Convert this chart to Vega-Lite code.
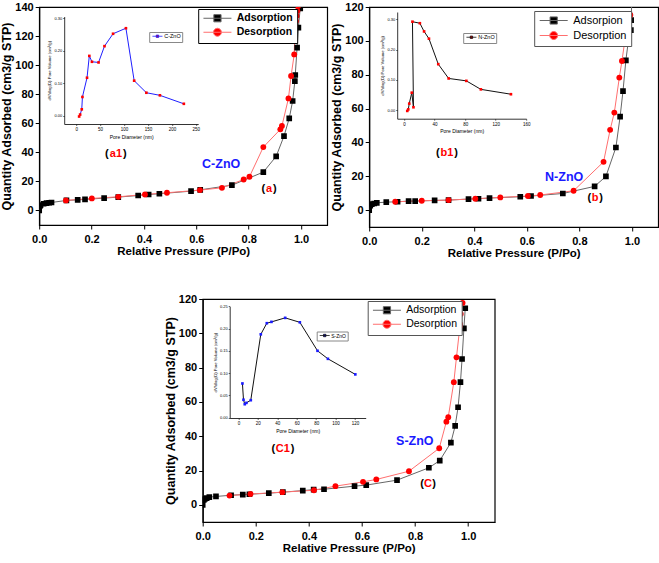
{
"$schema":"https://vega.github.io/schema/vega-lite/v6.json",
"padding":{"left":0,"top":0,"right":0,"bottom":2},
"config":{
 "font":"Liberation Sans",
 "view":{"stroke":"black","strokeWidth":1.2},
 "axis":{"grid":false,"domainColor":"black","domainWidth":1.2,"tickColor":"black","labelColor":"black","titleColor":"black","labelFontWeight":"bold","titleFontWeight":"bold","labelFontSize":11,"tickSize":4},
 "axisX":{"titleFontSize":11.5,"labelPadding":4,"titlePadding":1,"labelFlush":false},
 "axisY":{"titleFontSize":12.5,"titlePadding":1,"labelPadding":2}
},
"datasets":{
 "iso":[
 {"panel":"a","series":"Adsorption","p":0,"q":0},{"panel":"a","series":"Adsorption","p":0.002,"q":3.0},{"panel":"a","series":"Adsorption","p":0.005,"q":3.7},{"panel":"a","series":"Adsorption","p":0.017,"q":4.6},{"panel":"a","series":"Adsorption","p":0.028,"q":5.0},{"panel":"a","series":"Adsorption","p":0.038,"q":5.3},{"panel":"a","series":"Adsorption","p":0.047,"q":5.5},{"panel":"a","series":"Adsorption","p":0.104,"q":6.9},{"panel":"a","series":"Adsorption","p":0.147,"q":7.3},{"panel":"a","series":"Adsorption","p":0.175,"q":7.6},{"panel":"a","series":"Adsorption","p":0.248,"q":8.5},{"panel":"a","series":"Adsorption","p":0.302,"q":9.2},{"panel":"a","series":"Adsorption","p":0.378,"q":10.3},{"panel":"a","series":"Adsorption","p":0.418,"q":11.0},{"panel":"a","series":"Adsorption","p":0.459,"q":11.5},{"panel":"a","series":"Adsorption","p":0.58,"q":13.3},{"panel":"a","series":"Adsorption","p":0.615,"q":14.2},{"panel":"a","series":"Adsorption","p":0.736,"q":17.4},{"panel":"a","series":"Adsorption","p":0.856,"q":26.4},{"panel":"a","series":"Adsorption","p":0.905,"q":37.2},{"panel":"a","series":"Adsorption","p":0.935,"q":51.2},{"panel":"a","series":"Adsorption","p":0.955,"q":63.4},{"panel":"a","series":"Adsorption","p":0.968,"q":75.3},{"panel":"a","series":"Adsorption","p":0.9765,"q":89},{"panel":"a","series":"Adsorption","p":0.978,"q":93.2},{"panel":"a","series":"Adsorption","p":0.985,"q":112},{"panel":"a","series":"Adsorption","p":0.99,"q":125.8},{"panel":"a","series":"Adsorption","p":0.997,"q":139},
 {"panel":"a","series":"Desorption","p":0.102,"q":6.9},{"panel":"a","series":"Desorption","p":0.201,"q":8.3},{"panel":"a","series":"Desorption","p":0.302,"q":9.4},{"panel":"a","series":"Desorption","p":0.404,"q":11.0},{"panel":"a","series":"Desorption","p":0.488,"q":12.2},{"panel":"a","series":"Desorption","p":0.614,"q":14.0},{"panel":"a","series":"Desorption","p":0.698,"q":15.6},{"panel":"a","series":"Desorption","p":0.781,"q":21.3},{"panel":"a","series":"Desorption","p":0.803,"q":23.2},{"panel":"a","series":"Desorption","p":0.856,"q":43.6},{"panel":"a","series":"Desorption","p":0.921,"q":55.8},{"panel":"a","series":"Desorption","p":0.927,"q":58.1},{"panel":"a","series":"Desorption","p":0.952,"q":77.1},{"panel":"a","series":"Desorption","p":0.962,"q":92.5},{"panel":"a","series":"Desorption","p":0.974,"q":107.4},{"panel":"a","series":"Desorption","p":0.977,"q":127},{"panel":"a","series":"Desorption","p":0.981,"q":130.3},{"panel":"a","series":"Desorption","p":0.983,"q":133.8},{"panel":"a","series":"Desorption","p":0.986,"q":137.3},{"panel":"a","series":"Desorption","p":0.989,"q":140.7},
 {"panel":"b","series":"Adsorpion","p":0,"q":0},{"panel":"b","series":"Adsorpion","p":0.004,"q":2.6},{"panel":"b","series":"Adsorpion","p":0.01,"q":3.5},{"panel":"b","series":"Adsorpion","p":0.019,"q":3.9},{"panel":"b","series":"Adsorpion","p":0.029,"q":4.3},{"panel":"b","series":"Adsorpion","p":0.065,"q":4.7},{"panel":"b","series":"Adsorpion","p":0.108,"q":4.9},{"panel":"b","series":"Adsorpion","p":0.15,"q":5.3},{"panel":"b","series":"Adsorpion","p":0.175,"q":5.3},{"panel":"b","series":"Adsorpion","p":0.249,"q":5.7},{"panel":"b","series":"Adsorpion","p":0.302,"q":5.9},{"panel":"b","series":"Adsorpion","p":0.378,"q":6.5},{"panel":"b","series":"Adsorpion","p":0.416,"q":6.7},{"panel":"b","series":"Adsorpion","p":0.458,"q":7.1},{"panel":"b","series":"Adsorpion","p":0.575,"q":7.9},{"panel":"b","series":"Adsorpion","p":0.616,"q":8.3},{"panel":"b","series":"Adsorpion","p":0.737,"q":9.8},{"panel":"b","series":"Adsorpion","p":0.858,"q":14.0},{"panel":"b","series":"Adsorpion","p":0.901,"q":19.9},{"panel":"b","series":"Adsorpion","p":0.939,"q":37.0},{"panel":"b","series":"Adsorpion","p":0.955,"q":55.2},{"panel":"b","series":"Adsorpion","p":0.966,"q":70.3},{"panel":"b","series":"Adsorpion","p":0.977,"q":88.5},{"panel":"b","series":"Adsorpion","p":0.985,"q":98.2},{"panel":"b","series":"Adsorpion","p":0.996,"q":106.3},{"panel":"b","series":"Adsorpion","p":0.997,"q":112.2},{"panel":"b","series":"Adsorpion","p":1.0,"q":126},
 {"panel":"b","series":"Desorption","p":0.099,"q":4.9},{"panel":"b","series":"Desorption","p":0.2,"q":5.5},{"panel":"b","series":"Desorption","p":0.302,"q":5.9},{"panel":"b","series":"Desorption","p":0.404,"q":6.7},{"panel":"b","series":"Desorption","p":0.499,"q":7.5},{"panel":"b","series":"Desorption","p":0.604,"q":8.3},{"panel":"b","series":"Desorption","p":0.651,"q":8.9},{"panel":"b","series":"Desorption","p":0.778,"q":11.4},{"panel":"b","series":"Desorption","p":0.892,"q":28.5},{"panel":"b","series":"Desorption","p":0.917,"q":47.4},{"panel":"b","series":"Desorption","p":0.933,"q":57.6},{"panel":"b","series":"Desorption","p":0.952,"q":78.3},{"panel":"b","series":"Desorption","p":0.962,"q":88.1},{"panel":"b","series":"Desorption","p":0.975,"q":102.3},{"panel":"b","series":"Desorption","p":0.978,"q":105.8},{"panel":"b","series":"Desorption","p":0.985,"q":111.3},{"panel":"b","series":"Desorption","p":0.994,"q":115.3},
 {"panel":"c","series":"Adsorption","p":0,"q":0},{"panel":"c","series":"Adsorption","p":0.004,"q":2.9},{"panel":"c","series":"Adsorption","p":0.008,"q":3.5},{"panel":"c","series":"Adsorption","p":0.015,"q":3.9},{"panel":"c","series":"Adsorption","p":0.025,"q":4.5},{"panel":"c","series":"Adsorption","p":0.05,"q":4.9},{"panel":"c","series":"Adsorption","p":0.107,"q":5.6},{"panel":"c","series":"Adsorption","p":0.151,"q":6.0},{"panel":"c","series":"Adsorption","p":0.176,"q":6.2},{"panel":"c","series":"Adsorption","p":0.249,"q":6.8},{"panel":"c","series":"Adsorption","p":0.302,"q":7.4},{"panel":"c","series":"Adsorption","p":0.377,"q":8.3},{"panel":"c","series":"Adsorption","p":0.418,"q":8.9},{"panel":"c","series":"Adsorption","p":0.457,"q":9.1},{"panel":"c","series":"Adsorption","p":0.572,"q":10.9},{"panel":"c","series":"Adsorption","p":0.616,"q":11.5},{"panel":"c","series":"Adsorption","p":0.732,"q":14.4},{"panel":"c","series":"Adsorption","p":0.852,"q":21.6},{"panel":"c","series":"Adsorption","p":0.893,"q":25.8},{"panel":"c","series":"Adsorption","p":0.935,"q":36.3},{"panel":"c","series":"Adsorption","p":0.951,"q":46},{"panel":"c","series":"Adsorption","p":0.962,"q":56.9},{"panel":"c","series":"Adsorption","p":0.971,"q":71.5},{"panel":"c","series":"Adsorption","p":0.977,"q":85},{"panel":"c","series":"Adsorption","p":0.984,"q":102.9},{"panel":"c","series":"Adsorption","p":0.989,"q":114.6},
 {"panel":"c","series":"Desorption","p":0.101,"q":5.4},{"panel":"c","series":"Desorption","p":0.18,"q":6.3},{"panel":"c","series":"Desorption","p":0.3,"q":7.4},{"panel":"c","series":"Desorption","p":0.419,"q":8.5},{"panel":"c","series":"Desorption","p":0.5,"q":10.9},{"panel":"c","series":"Desorption","p":0.604,"q":13.4},{"panel":"c","series":"Desorption","p":0.654,"q":14.8},{"panel":"c","series":"Desorption","p":0.777,"q":19.6},{"panel":"c","series":"Desorption","p":0.891,"q":33},{"panel":"c","series":"Desorption","p":0.918,"q":48.5},{"panel":"c","series":"Desorption","p":0.925,"q":51.1},{"panel":"c","series":"Desorption","p":0.946,"q":71.5},{"panel":"c","series":"Desorption","p":0.956,"q":86},{"panel":"c","series":"Desorption","p":0.969,"q":104.1},{"panel":"c","series":"Desorption","p":0.9695,"q":105.4},{"panel":"c","series":"Desorption","p":0.972,"q":111.3},{"panel":"c","series":"Desorption","p":0.979,"q":117.7}
 ],
 "psd":[
 {"panel":"a","sample":"C-ZnO","ord":1,"d":6.2,"v":-0.002},{"panel":"a","sample":"C-ZnO","ord":2,"d":8.3,"v":0.004},{"panel":"a","sample":"C-ZnO","ord":3,"d":11.7,"v":0.020},{"panel":"a","sample":"C-ZnO","ord":4,"d":13.1,"v":0.058},{"panel":"a","sample":"C-ZnO","ord":5,"d":22.7,"v":0.117},{"panel":"a","sample":"C-ZnO","ord":6,"d":27.5,"v":0.184},{"panel":"a","sample":"C-ZnO","ord":7,"d":33,"v":0.166},{"panel":"a","sample":"C-ZnO","ord":8,"d":46.8,"v":0.164},{"panel":"a","sample":"C-ZnO","ord":9,"d":59.2,"v":0.214},{"panel":"a","sample":"C-ZnO","ord":10,"d":77.1,"v":0.252},{"panel":"a","sample":"C-ZnO","ord":11,"d":104,"v":0.269},{"panel":"a","sample":"C-ZnO","ord":12,"d":121.2,"v":0.108},{"panel":"a","sample":"C-ZnO","ord":13,"d":146.7,"v":0.071},{"panel":"a","sample":"C-ZnO","ord":14,"d":175,"v":0.063},{"panel":"a","sample":"C-ZnO","ord":15,"d":225,"v":0.037},
 {"panel":"b","sample":"N-ZnO","ord":1,"d":4.2,"v":-0.002},{"panel":"b","sample":"N-ZnO","ord":2,"d":5.5,"v":0.003},{"panel":"b","sample":"N-ZnO","ord":3,"d":6.8,"v":0.022},{"panel":"b","sample":"N-ZnO","ord":4,"d":10.1,"v":0.058},{"panel":"b","sample":"N-ZnO","ord":5,"d":12.3,"v":0.010},{"panel":"b","sample":"N-ZnO","ord":6,"d":11,"v":0.292},{"panel":"b","sample":"N-ZnO","ord":7,"d":20.7,"v":0.287},{"panel":"b","sample":"N-ZnO","ord":8,"d":26.2,"v":0.260},{"panel":"b","sample":"N-ZnO","ord":9,"d":32.6,"v":0.236},{"panel":"b","sample":"N-ZnO","ord":10,"d":44.8,"v":0.152},{"panel":"b","sample":"N-ZnO","ord":11,"d":58.4,"v":0.105},{"panel":"b","sample":"N-ZnO","ord":12,"d":81.6,"v":0.097},{"panel":"b","sample":"N-ZnO","ord":13,"d":100.6,"v":0.069},{"panel":"b","sample":"N-ZnO","ord":14,"d":140,"v":0.053},
 {"panel":"c","sample":"S-ZnO","ord":1,"d":4.1,"v":0.0766},{"panel":"c","sample":"S-ZnO","ord":2,"d":5.2,"v":0.040},{"panel":"c","sample":"S-ZnO","ord":3,"d":6.5,"v":0.030},{"panel":"c","sample":"S-ZnO","ord":4,"d":8.2,"v":0.033},{"panel":"c","sample":"S-ZnO","ord":5,"d":12.7,"v":0.039},{"panel":"c","sample":"S-ZnO","ord":6,"d":23.0,"v":0.187},{"panel":"c","sample":"S-ZnO","ord":7,"d":29.2,"v":0.212},{"panel":"c","sample":"S-ZnO","ord":8,"d":34.0,"v":0.215},{"panel":"c","sample":"S-ZnO","ord":9,"d":48.1,"v":0.224},{"panel":"c","sample":"S-ZnO","ord":10,"d":63.2,"v":0.214},{"panel":"c","sample":"S-ZnO","ord":11,"d":81.4,"v":0.150},{"panel":"c","sample":"S-ZnO","ord":12,"d":92.1,"v":0.132},{"panel":"c","sample":"S-ZnO","ord":13,"d":120.3,"v":0.097}
 ],
 "notes":[
 {"panel":"a","kind":"name","p":0.695,"q":31.9,"tag":"C-ZnO"},
 {"panel":"a","kind":"tag","p":0.293,"q":38.8,"tag":"a1"},
 {"panel":"a","kind":"tag","p":0.878,"q":14.7,"tag":"a"},
 {"panel":"b","kind":"name","p":0.742,"q":19.8,"tag":"N-ZnO"},
 {"panel":"b","kind":"tag","p":0.296,"q":34,"tag":"b1"},
 {"panel":"b","kind":"tag","p":0.86,"q":7.1,"tag":"b"},
 {"panel":"c","kind":"name","p":0.799,"q":37.5,"tag":"S-ZnO"},
 {"panel":"c","kind":"tag","p":0.302,"q":32.6,"tag":"C1"},
 {"panel":"c","kind":"tag","p":0.849,"q":12.2,"tag":"C"}
 ]
},
"vconcat":[
 {"hconcat":[
  {"width":288,"height":218,
   "layer":[
    {"encoding":{
      "x":{"field":"p","type":"quantitative","scale":{"domain":[0,1.1],"nice":false,"zero":false},"axis":{"title":"Relative Pressure (P/Po)","values":[0,0.2,0.4,0.6,0.8,1],"format":".1f"}},
      "y":{"field":"q","type":"quantitative","scale":{"domain":[-10,140],"nice":false,"zero":false},"axis":{"title":"Quantity Adsorbed (cm3/g STP)","values":[0,20,40,60,80,100,120,140]}}},
     "layer":[
      {"data":{"name":"iso"},"transform":[{"filter":"datum.panel=='a' && datum.series!='Desorption'"}],"mark":{"type":"line","color":"#666666","strokeWidth":1,"clip":true}},
      {"data":{"name":"iso"},"transform":[{"filter":"datum.panel=='a' && datum.series=='Desorption'"}],"mark":{"type":"line","color":"#ff6f6f","strokeWidth":1,"clip":true}},
      {"data":{"name":"iso"},"transform":[{"filter":"datum.panel=='a' && datum.series!='Desorption'"}],"mark":{"type":"point","shape":"square","filled":true,"opacity":1,"size":32,"color":"#000000","clip":true}},
      {"data":{"name":"iso"},"transform":[{"filter":"datum.panel=='a' && datum.series=='Desorption'"}],"mark":{"type":"point","shape":"circle","filled":true,"opacity":1,"size":34,"color":"#ff0000","clip":true}},
      {"data":{"name":"iso"},"transform":[{"filter":"datum.panel=='legendonly'"}],"mark":{"type":"point","filled":true,"opacity":1,"size":64,"clip":true},
       "encoding":{
        "fill":{"field":"series","type":"nominal","scale":{"domain":["Adsorption","Desorption"],"range":["#000000","#ff0000"]},
          "legend":{"title":null,"orient":"none","legendX":159,"legendY":2,"strokeColor":"black","fillColor":"white","padding":4,"labelFontSize":10.5,"labelFontWeight":"bold","labelColor":"black","symbolSize":64,"symbolOpacity":1,"symbolStrokeWidth":1,"labelOffset":24,"rowPadding":2}},
        "stroke":{"field":"series","type":"nominal","scale":{"domain":["Adsorption","Desorption"],"range":["#666666","#ff6f6f"]},"legend":{"title":null,"orient":"none"}},
        "shape":{"field":"series","type":"nominal","scale":{"domain":["Adsorption","Desorption"],"range":["M-1,0H6M1.6,-0.9H3.4V0.9H1.6Z","M-1,0H6M1.5,0A1,1 0 1,1 3.5,0A1,1 0 1,1 1.5,0Z"]},"legend":{"title":null,"orient":"none"}}}},
      {"data":{"name":"notes"},"transform":[{"filter":"datum.panel=='a' && datum.kind=='name'"}],"mark":{"type":"text","color":"#1a1aff","fontWeight":"bold","fontSize":12.5,"baseline":"middle"},"encoding":{"text":{"field":"tag"}}},
      {"data":{"name":"notes"},"transform":[{"filter":"datum.panel=='a' && datum.kind=='tag'"}],"mark":{"type":"text","color":"#ff0000","fontWeight":"bold","fontSize":11,"baseline":"middle"},"encoding":{"text":{"field":"tag"}}},
      {"data":{"name":"notes"},"transform":[{"filter":"datum.panel=='a' && datum.kind=='tag'"}],"mark":{"type":"text","color":"black","fontWeight":"bold","fontSize":11,"baseline":"middle","align":"right","dx":{"expr":"-(length(datum.tag)*3.3+0.6)"}},"encoding":{"text":{"value":"("}}},
      {"data":{"name":"notes"},"transform":[{"filter":"datum.panel=='a' && datum.kind=='tag'"}],"mark":{"type":"text","color":"black","fontWeight":"bold","fontSize":11,"baseline":"middle","align":"left","dx":{"expr":"length(datum.tag)*3.3+0.6"}},"encoding":{"text":{"value":")"}}}
     ]},
    {"encoding":{
      "x":{"field":"d","type":"quantitative","scale":{"domain":[-25,255],"range":[25,159],"nice":false,"zero":false},"axis":{"orient":"bottom","offset":-101,"values":[0,50,100,150,200,250],"title":"Pore Diameter (nm)","labelFontSize":4.5,"labelFontWeight":"normal","titleFontSize":5,"titleFontWeight":"normal","tickSize":1.5,"labelPadding":1,"titlePadding":3,"domainWidth":0.8,"tickWidth":0.6}},
      "y":{"field":"v","type":"quantitative","scale":{"domain":[-0.025,0.305],"range":[117,9.5],"nice":false,"zero":false},"axis":{"orient":"left","offset":-25,"values":[0,0.05,0.1,0.15,0.2,0.25,0.3],"format":".2f","title":"dV/dlog(D) Pore Volume (cm³/g)","labelFontSize":4,"labelFontWeight":"normal","titleFontSize":4.2,"titleFontWeight":"normal","tickSize":1.5,"labelPadding":1,"titlePadding":2,"domainWidth":0.8,"tickWidth":0.6}}},
     "layer":[
      {"data":{"values":[{}]},"mark":{"type":"rect","fill":"white","stroke":"black","strokeWidth":0.9},
       "encoding":{"x":{"datum":-25,"type":"quantitative","axis":{"title":"Pore Diameter (nm)"}},"x2":{"datum":255},"y":{"datum":-0.025,"type":"quantitative","axis":{"title":"dV/dlog(D) Pore Volume (cm³/g)"}},"y2":{"datum":0.305}}},
      {"data":{"name":"psd"},"transform":[{"filter":"datum.panel=='a'"}],"mark":{"type":"line","color":"#1f1fff","strokeWidth":1},"encoding":{"order":{"field":"ord","type":"quantitative"}}},
      {"data":{"name":"psd"},"transform":[{"filter":"datum.panel=='a'"}],"mark":{"type":"point","filled":true,"opacity":1,"shape":"square","size":7,"color":"#ff0000"}},
      {"data":{"name":"psd"},"transform":[{"filter":"datum.panel=='legendonly'"}],"mark":{"type":"point","filled":true,"opacity":1,"size":16},
       "encoding":{
        "fill":{"field":"sample","type":"nominal","scale":{"domain":["C-ZnO"],"range":["#ff0000"]},
         "legend":{"title":null,"orient":"none","legendX":110,"legendY":25,"strokeColor":"#888888","fillColor":"white","padding":1.5,"labelFontSize":5.5,"labelFontWeight":"normal","labelColor":"black","symbolSize":16,"symbolOpacity":1,"symbolStrokeWidth":0.8,"labelOffset":8}},
        "stroke":{"field":"sample","type":"nominal","scale":{"domain":["C-ZnO"],"range":["#1f1fff"]},"legend":{"title":null,"orient":"none"}},
        "shape":{"field":"sample","type":"nominal","scale":{"domain":["C-ZnO"],"range":["M-0.5,0H4.5M1.4,-0.6H2.6V0.6H1.4Z"]},"legend":{"title":null,"orient":"none"}}}}
     ]}
   ],
   "resolve":{"scale":{"x":"independent","y":"independent","fill":"independent","stroke":"independent","shape":"independent"}}
  },
  {"width":289,"height":220,
   "layer":[
    {"encoding":{
      "x":{"field":"p","type":"quantitative","scale":{"domain":[0,1.1],"nice":false,"zero":false},"axis":{"title":"Relative Pressure (P/Po)","values":[0,0.2,0.4,0.6,0.8,1],"format":".1f"}},
      "y":{"field":"q","type":"quantitative","scale":{"domain":[-10,120],"nice":false,"zero":false},"axis":{"title":"Quantity Adsorbed (cm3/g STP)","values":[0,20,40,60,80,100,120]}}},
     "layer":[
      {"data":{"name":"iso"},"transform":[{"filter":"datum.panel=='b' && datum.series!='Desorption'"}],"mark":{"type":"line","color":"#666666","strokeWidth":1,"clip":true}},
      {"data":{"name":"iso"},"transform":[{"filter":"datum.panel=='b' && datum.series=='Desorption'"}],"mark":{"type":"line","color":"#ff6f6f","strokeWidth":1,"clip":true}},
      {"data":{"name":"iso"},"transform":[{"filter":"datum.panel=='b' && datum.series!='Desorption'"}],"mark":{"type":"point","shape":"square","filled":true,"opacity":1,"size":32,"color":"#000000","clip":true}},
      {"data":{"name":"iso"},"transform":[{"filter":"datum.panel=='b' && datum.series=='Desorption'"}],"mark":{"type":"point","shape":"circle","filled":true,"opacity":1,"size":34,"color":"#ff0000","clip":true}},
      {"data":{"name":"iso"},"transform":[{"filter":"datum.panel=='legendonly'"}],"mark":{"type":"point","filled":true,"opacity":1,"size":64,"clip":true},
       "encoding":{
        "fill":{"field":"series","type":"nominal","scale":{"domain":["Adsorpion","Desorption"],"range":["#000000","#ff0000"]},
          "legend":{"title":null,"orient":"none","legendX":165,"legendY":4,"strokeColor":"#555555","fillColor":"white","padding":4,"labelFontSize":11,"labelFontWeight":"normal","labelColor":"black","symbolSize":64,"symbolOpacity":1,"symbolStrokeWidth":1,"labelOffset":24,"rowPadding":2}},
        "stroke":{"field":"series","type":"nominal","scale":{"domain":["Adsorpion","Desorption"],"range":["#666666","#ff6f6f"]},"legend":{"title":null,"orient":"none"}},
        "shape":{"field":"series","type":"nominal","scale":{"domain":["Adsorpion","Desorption"],"range":["M-1,0H6M1.6,-0.9H3.4V0.9H1.6Z","M-1,0H6M1.5,0A1,1 0 1,1 3.5,0A1,1 0 1,1 1.5,0Z"]},"legend":{"title":null,"orient":"none"}}}},
      {"data":{"name":"notes"},"transform":[{"filter":"datum.panel=='b' && datum.kind=='name'"}],"mark":{"type":"text","color":"#1a1aff","fontWeight":"bold","fontSize":12.5,"baseline":"middle"},"encoding":{"text":{"field":"tag"}}},
      {"data":{"name":"notes"},"transform":[{"filter":"datum.panel=='b' && datum.kind=='tag'"}],"mark":{"type":"text","color":"#ff0000","fontWeight":"bold","fontSize":11,"baseline":"middle"},"encoding":{"text":{"field":"tag"}}},
      {"data":{"name":"notes"},"transform":[{"filter":"datum.panel=='b' && datum.kind=='tag'"}],"mark":{"type":"text","color":"black","fontWeight":"bold","fontSize":11,"baseline":"middle","align":"right","dx":{"expr":"-(length(datum.tag)*3.4+0.6)"}},"encoding":{"text":{"value":"("}}},
      {"data":{"name":"notes"},"transform":[{"filter":"datum.panel=='b' && datum.kind=='tag'"}],"mark":{"type":"text","color":"black","fontWeight":"bold","fontSize":11,"baseline":"middle","align":"left","dx":{"expr":"length(datum.tag)*3.4+0.6"}},"encoding":{"text":{"value":")"}}}
     ]},
    {"encoding":{
      "x":{"field":"d","type":"quantitative","scale":{"domain":[-9,160],"range":[28,157],"nice":false,"zero":false},"axis":{"orient":"bottom","offset":-108.3,"values":[0,20,40,60,80,100,120,140,160],"title":"Pore Diameter (nm)","labelFontSize":4.5,"labelFontWeight":"normal","titleFontSize":5,"titleFontWeight":"normal","tickSize":1.5,"labelPadding":1,"titlePadding":3,"domainWidth":0.8,"tickWidth":0.6}},
      "y":{"field":"v","type":"quantitative","scale":{"domain":[-0.0277,0.324],"range":[111.7,5],"nice":false,"zero":false},"axis":{"orient":"left","offset":-28,"values":[0,0.05,0.1,0.15,0.2,0.25,0.3],"format":".2f","title":"dV/dlog(D) Pore Volume (cm³/g)","labelFontSize":4,"labelFontWeight":"normal","titleFontSize":4.2,"titleFontWeight":"normal","tickSize":1.5,"labelPadding":1,"titlePadding":2,"domainWidth":0.8,"tickWidth":0.6}}},
     "layer":[
      {"data":{"values":[{}]},"mark":{"type":"rect","fill":"white","stroke":"black","strokeWidth":0.9},
       "encoding":{"x":{"datum":-9,"type":"quantitative","axis":{"title":"Pore Diameter (nm)"}},"x2":{"datum":160},"y":{"datum":-0.0277,"type":"quantitative","axis":{"title":"dV/dlog(D) Pore Volume (cm³/g)"}},"y2":{"datum":0.324}}},
      {"data":{"name":"psd"},"transform":[{"filter":"datum.panel=='b'"}],"mark":{"type":"line","color":"#111111","strokeWidth":1},"encoding":{"order":{"field":"ord","type":"quantitative"}}},
      {"data":{"name":"psd"},"transform":[{"filter":"datum.panel=='b'"}],"mark":{"type":"point","filled":true,"opacity":1,"shape":"square","size":7,"color":"#ff0000"}},
      {"data":{"name":"psd"},"transform":[{"filter":"datum.panel=='legendonly'"}],"mark":{"type":"point","filled":true,"opacity":1,"size":16},
       "encoding":{
        "fill":{"field":"sample","type":"nominal","scale":{"domain":["N-ZnO"],"range":["#ff0000"]},
         "legend":{"title":null,"orient":"none","legendX":94,"legendY":26,"strokeColor":"#888888","fillColor":"white","padding":1.5,"labelFontSize":5.5,"labelFontWeight":"normal","labelColor":"black","symbolSize":16,"symbolOpacity":1,"symbolStrokeWidth":0.8,"labelOffset":8}},
        "stroke":{"field":"sample","type":"nominal","scale":{"domain":["N-ZnO"],"range":["#111111"]},"legend":{"title":null,"orient":"none"}},
        "shape":{"field":"sample","type":"nominal","scale":{"domain":["N-ZnO"],"range":["M-0.5,0H4.5M1.4,-0.6H2.6V0.6H1.4Z"]},"legend":{"title":null,"orient":"none"}}}}
     ]}
   ],
   "resolve":{"scale":{"x":"independent","y":"independent","fill":"independent","stroke":"independent","shape":"independent"}}
  }
 ],"spacing":2},
 {"width":292,"height":223,
   "layer":[
    {"encoding":{
      "x":{"field":"p","type":"quantitative","scale":{"domain":[0,1.1],"nice":false,"zero":false},"axis":{"title":"Relative Pressure (P/Po)","values":[0,0.2,0.4,0.6,0.8,1],"format":".1f"}},
      "y":{"field":"q","type":"quantitative","scale":{"domain":[-10,120],"nice":false,"zero":false},"axis":{"title":"Quantity Adsorbed (cm3/g STP)","values":[0,20,40,60,80,100,120]}}},
     "layer":[
      {"data":{"name":"iso"},"transform":[{"filter":"datum.panel=='c' && datum.series!='Desorption'"}],"mark":{"type":"line","color":"#666666","strokeWidth":1,"clip":true}},
      {"data":{"name":"iso"},"transform":[{"filter":"datum.panel=='c' && datum.series=='Desorption'"}],"mark":{"type":"line","color":"#ff6f6f","strokeWidth":1,"clip":true}},
      {"data":{"name":"iso"},"transform":[{"filter":"datum.panel=='c' && datum.series!='Desorption'"}],"mark":{"type":"point","shape":"square","filled":true,"opacity":1,"size":32,"color":"#000000","clip":true}},
      {"data":{"name":"iso"},"transform":[{"filter":"datum.panel=='c' && datum.series=='Desorption'"}],"mark":{"type":"point","shape":"circle","filled":true,"opacity":1,"size":34,"color":"#ff0000","clip":true}},
      {"data":{"name":"iso"},"transform":[{"filter":"datum.panel=='legendonly'"}],"mark":{"type":"point","filled":true,"opacity":1,"size":64,"clip":true},
       "encoding":{
        "fill":{"field":"series","type":"nominal","scale":{"domain":["Adsorption","Desorption"],"range":["#000000","#ff0000"]},
          "legend":{"title":null,"orient":"none","legendX":165,"legendY":2,"strokeColor":"#555555","fillColor":"white","padding":4,"labelFontSize":10.5,"labelFontWeight":"normal","labelColor":"black","symbolSize":64,"symbolOpacity":1,"symbolStrokeWidth":1,"labelOffset":24,"rowPadding":2}},
        "stroke":{"field":"series","type":"nominal","scale":{"domain":["Adsorption","Desorption"],"range":["#666666","#ff6f6f"]},"legend":{"title":null,"orient":"none"}},
        "shape":{"field":"series","type":"nominal","scale":{"domain":["Adsorption","Desorption"],"range":["M-1,0H6M1.6,-0.9H3.4V0.9H1.6Z","M-1,0H6M1.5,0A1,1 0 1,1 3.5,0A1,1 0 1,1 1.5,0Z"]},"legend":{"title":null,"orient":"none"}}}},
      {"data":{"name":"notes"},"transform":[{"filter":"datum.panel=='c' && datum.kind=='name'"}],"mark":{"type":"text","color":"#1a1aff","fontWeight":"bold","fontSize":12.5,"baseline":"middle"},"encoding":{"text":{"field":"tag"}}},
      {"data":{"name":"notes"},"transform":[{"filter":"datum.panel=='c' && datum.kind=='tag'"}],"mark":{"type":"text","color":"#ff0000","fontWeight":"bold","fontSize":11,"baseline":"middle"},"encoding":{"text":{"field":"tag"}}},
      {"data":{"name":"notes"},"transform":[{"filter":"datum.panel=='c' && datum.kind=='tag'"}],"mark":{"type":"text","color":"black","fontWeight":"bold","fontSize":11,"baseline":"middle","align":"right","dx":{"expr":"-(length(datum.tag)*3.6+0.6)"}},"encoding":{"text":{"value":"("}}},
      {"data":{"name":"notes"},"transform":[{"filter":"datum.panel=='c' && datum.kind=='tag'"}],"mark":{"type":"text","color":"black","fontWeight":"bold","fontSize":11,"baseline":"middle","align":"left","dx":{"expr":"length(datum.tag)*3.6+0.6"}},"encoding":{"text":{"value":")"}}}
     ]},
    {"encoding":{
      "x":{"field":"d","type":"quantitative","scale":{"domain":[-9,131],"range":[27,163],"nice":false,"zero":false},"axis":{"orient":"bottom","offset":-104,"values":[0,20,40,60,80,100,120],"title":"Pore Diameter (nm)","labelFontSize":4.5,"labelFontWeight":"normal","titleFontSize":5,"titleFontWeight":"normal","tickSize":1.5,"labelPadding":1,"titlePadding":3,"domainWidth":0.8,"tickWidth":0.6}},
      "y":{"field":"v","type":"quantitative","scale":{"domain":[-0.001,0.25],"range":[119,7.3],"nice":false,"zero":false},"axis":{"orient":"left","offset":-27,"values":[0,0.05,0.1,0.15,0.2,0.25],"format":".2f","title":"dV/dlog(D) Pore Volume (cm³/g)","labelFontSize":4,"labelFontWeight":"normal","titleFontSize":4.2,"titleFontWeight":"normal","tickSize":1.5,"labelPadding":1,"titlePadding":2,"domainWidth":0.8,"tickWidth":0.6}}},
     "layer":[
      {"data":{"values":[{}]},"mark":{"type":"rect","fill":"white","stroke":"black","strokeWidth":0.9},
       "encoding":{"x":{"datum":-9,"type":"quantitative","axis":{"title":"Pore Diameter (nm)"}},"x2":{"datum":131},"y":{"datum":-0.001,"type":"quantitative","axis":{"title":"dV/dlog(D) Pore Volume (cm³/g)"}},"y2":{"datum":0.25}}},
      {"data":{"name":"psd"},"transform":[{"filter":"datum.panel=='c'"}],"mark":{"type":"line","color":"#111111","strokeWidth":1},"encoding":{"order":{"field":"ord","type":"quantitative"}}},
      {"data":{"name":"psd"},"transform":[{"filter":"datum.panel=='c'"}],"mark":{"type":"point","filled":true,"opacity":1,"shape":"square","size":7,"color":"#1a1aff"}},
      {"data":{"name":"psd"},"transform":[{"filter":"datum.panel=='legendonly'"}],"mark":{"type":"point","filled":true,"opacity":1,"size":16},
       "encoding":{
        "fill":{"field":"sample","type":"nominal","scale":{"domain":["S-ZnO"],"range":["#1a1aff"]},
         "legend":{"title":null,"orient":"none","legendX":114,"legendY":32.5,"strokeColor":"#888888","fillColor":"white","padding":1.5,"labelFontSize":5,"labelFontWeight":"normal","labelColor":"black","symbolSize":16,"symbolOpacity":1,"symbolStrokeWidth":0.8,"labelOffset":8}},
        "stroke":{"field":"sample","type":"nominal","scale":{"domain":["S-ZnO"],"range":["#111111"]},"legend":{"title":null,"orient":"none"}},
        "shape":{"field":"sample","type":"nominal","scale":{"domain":["S-ZnO"],"range":["M-0.5,0H4.5M1.4,-0.6H2.6V0.6H1.4Z"]},"legend":{"title":null,"orient":"none"}}}}
     ]}
   ],
   "resolve":{"scale":{"x":"independent","y":"independent","fill":"independent","stroke":"independent","shape":"independent"}}
 }
],
"spacing":32,
"center":true
}
